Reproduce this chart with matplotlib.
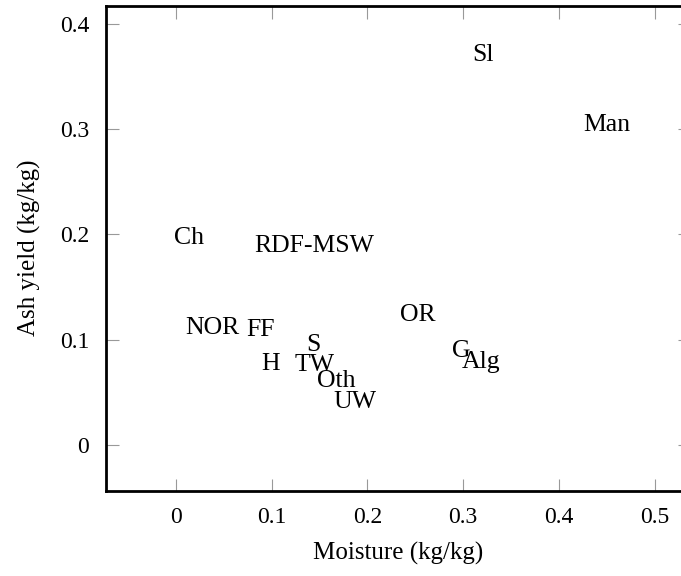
import matplotlib
matplotlib.use("Agg")
import matplotlib.pyplot as plt

# feedstock labels placed at (moisture, ash yield)
labels = ["Sl", "Man", "Ch", "RDF-MSW", "NOR", "FF", "OR", "S",
          "H", "TW", "Oth", "UW", "G", "Alg"]
moisture = [0.321, 0.450, 0.013, 0.144, 0.038, 0.088, 0.253, 0.144,
            0.099, 0.145, 0.167, 0.187, 0.298, 0.319]
ash = [0.373, 0.306, 0.199, 0.191, 0.1135, 0.1115, 0.126, 0.0975,
       0.0795, 0.078, 0.0635, 0.0435, 0.0915, 0.0815]

xticks = [0, 0.1, 0.2, 0.3, 0.4, 0.5]
yticks = [0, 0.1, 0.2, 0.3, 0.4]

plt.rcParams['font.family'] = ['Liberation Serif', 'DejaVu Serif']

fig = plt.figure(figsize=(6.81, 5.76), dpi=100)
ax = fig.add_axes([0.1557, 0.1481, 0.8575, 0.842])

for lab, x, y in zip(labels, moisture, ash):
    ax.text(x, y, lab, fontsize=18.5, ha='center', va='center_baseline')

ax.set_xlim(-0.0732, 0.537)
ax.set_ylim(-0.0434, 0.4171)
ax.set_xticks(xticks)
ax.set_yticks(yticks)
ax.set_xticklabels([f"{v:g}" for v in xticks])
ax.set_yticklabels([f"{v:g}" for v in yticks])
ax.tick_params(direction='in', length=9, width=0.8, color='#999999',
               top=True, right=True, labelsize=17, pad=12)
for sp in ax.spines.values():
    sp.set_linewidth(2)

ax.set_xlabel('Moisture (kg/kg)', fontsize=18, labelpad=10)
ax.set_ylabel('Ash yield (kg/kg)', fontsize=18, labelpad=14)

fig.savefig('out.png', dpi=100)
